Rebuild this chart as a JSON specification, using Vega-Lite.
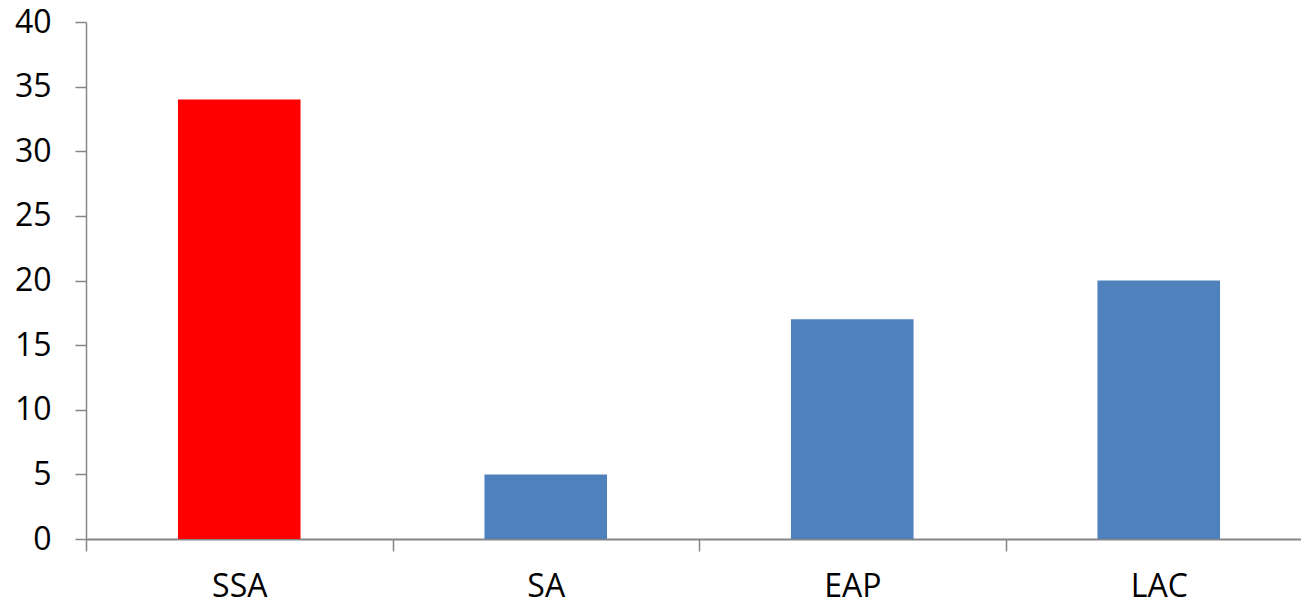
{
  "$schema": "https://vega.github.io/schema/vega-lite/v6.json",
  "autosize": {"type": "none"},
  "width": 1226,
  "height": 517,
  "padding": {"left": 86, "top": 22, "right": 0, "bottom": 65},
  "background": "white",
  "data": {"values": [
    {"region": "SSA", "value": 34, "highlight": "yes"},
    {"region": "SA", "value": 5, "highlight": "no"},
    {"region": "EAP", "value": 17, "highlight": "no"},
    {"region": "LAC", "value": 20, "highlight": "no"}
  ]},
  "mark": {"type": "bar", "width": {"band": 0.4}},
  "encoding": {
    "x": {
      "field": "region", "type": "nominal", "sort": null,
      "scale": {"paddingInner": 0, "paddingOuter": 0},
      "axis": {
        "title": null, "labelAngle": 0, "tickBand": "extent",
        "domainColor": "#868686", "domainWidth": 2, "tickColor": "#868686", "tickWidth": 1.5, "tickSize": 12,
        "labelFont": "Open Sans", "labelFontSize": 32, "labelColor": "#000000", "labelPadding": 20
      }
    },
    "y": {
      "field": "value", "type": "quantitative",
      "scale": {"domain": [0, 40]},
      "axis": {
        "title": null, "values": [0, 5, 10, 15, 20, 25, 30, 35, 40], "grid": false,
        "domainColor": "#868686", "domainWidth": 1.5, "tickColor": "#868686", "tickWidth": 1.5, "tickSize": 11,
        "labelFont": "Open Sans", "labelFontSize": 32, "labelColor": "#000000", "labelPadding": 24
      }
    },
    "color": {
      "field": "highlight", "type": "nominal",
      "scale": {"domain": ["yes", "no"], "range": ["#FF0000", "#4F81BD"]},
      "legend": null
    }
  },
  "config": {"view": {"stroke": null}}
}
